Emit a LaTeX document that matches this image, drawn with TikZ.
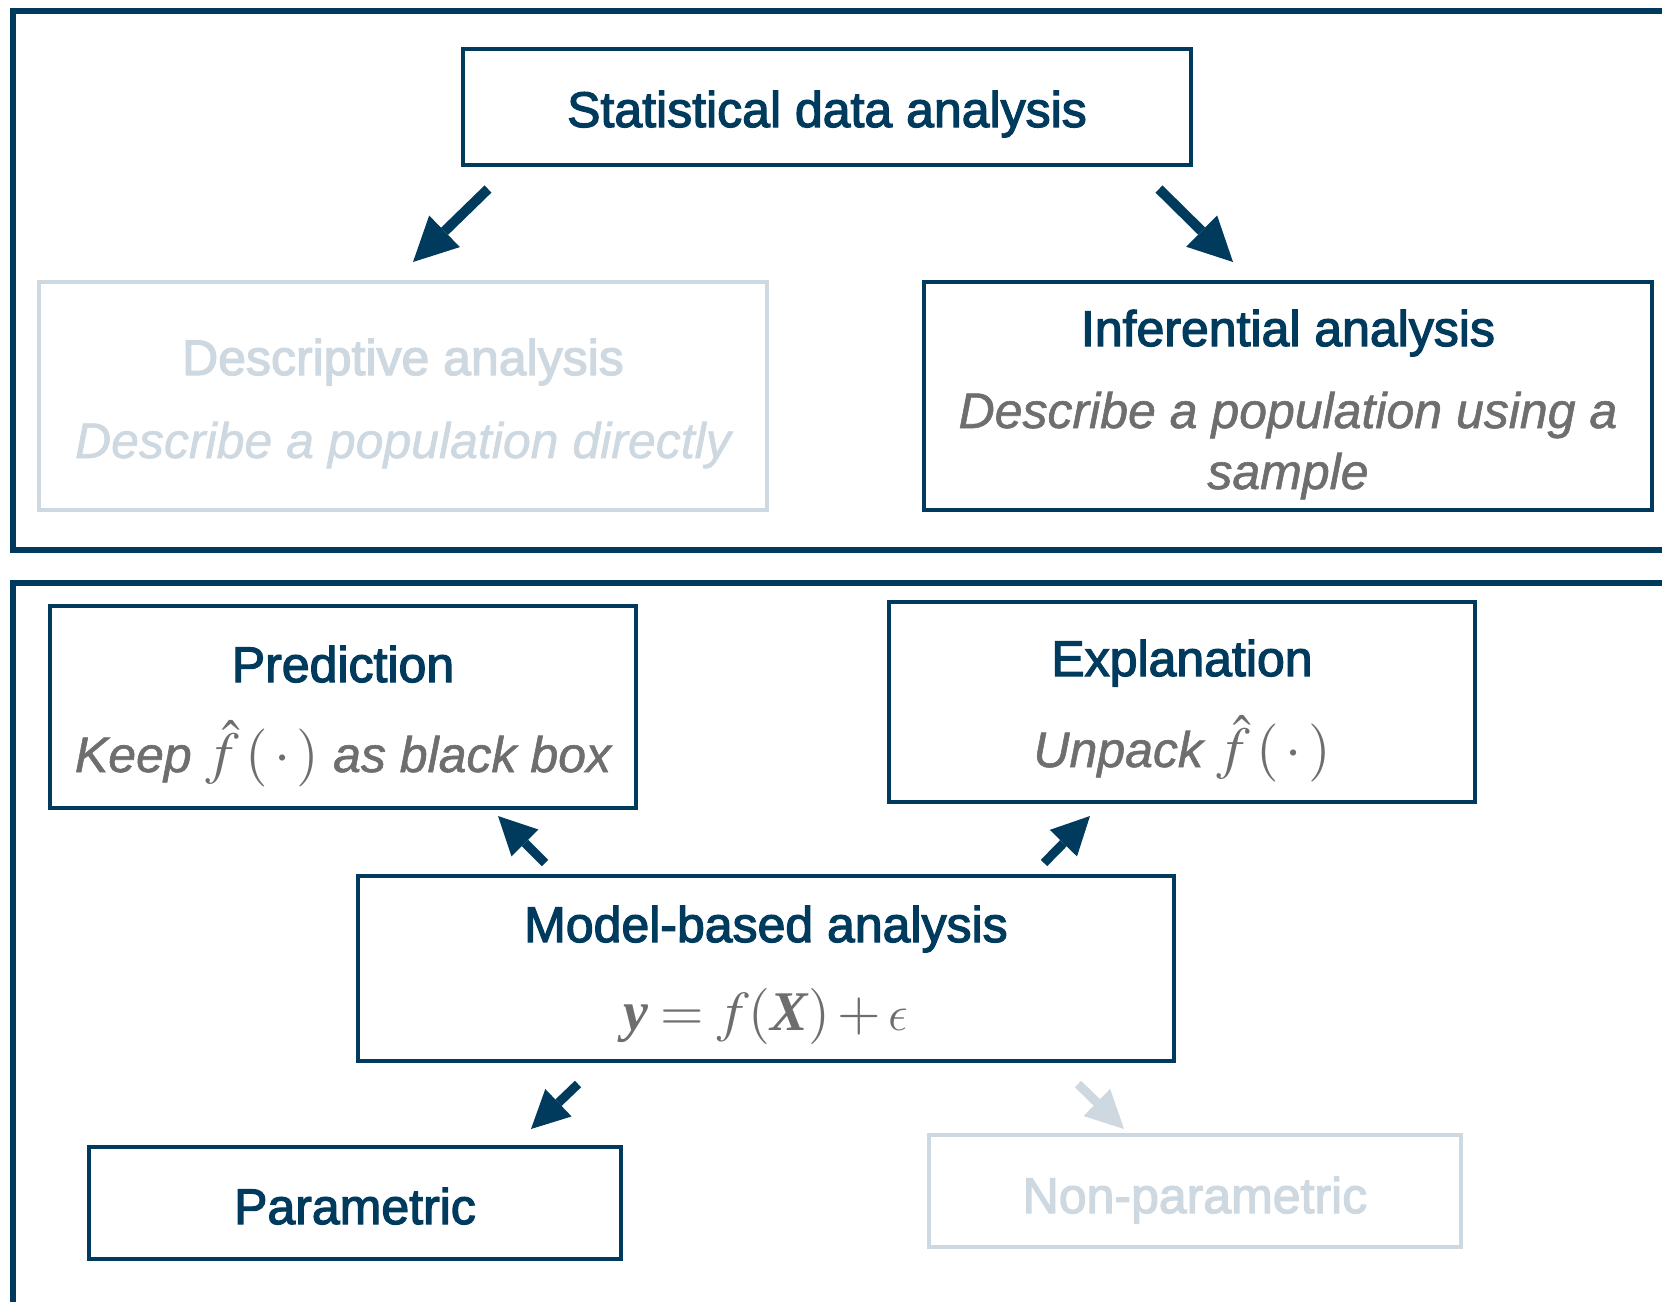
\documentclass[tikz,border=0pt]{standalone}
\usepackage{mathptmx}
\usepackage[no-math]{fontspec}
\setmainfont{Liberation Sans}
\newfontfamily\serifrm{Liberation Serif}
% slightly emboldened faces for box titles and descriptions
\font\headfnt="Liberation Sans:embolden=2.5" at 25pt
\font\subfnt="Liberation Sans/I:embolden=1.2" at 25pt
\usetikzlibrary{arrows.meta}

\definecolor{navy}{RGB}{0,58,93}
\definecolor{pale}{RGB}{205,216,224}
\definecolor{slate}{RGB}{110,110,110}

% lunate epsilon taken from the Latin Modern math italic font
\newcommand\lunateps{\mbox{\fontencoding{OML}\fontfamily{lmm}\fontseries{m}\fontshape{it}\fontsize{34}{34}\selectfont\char"0F}}
% estimated function, set a little larger than the words around it
\newcommand\fhatdot{{\fontsize{29}{29}\selectfont$\hat f\,(\,\cdot\,)$}}

\tikzset{
  frame/.style={draw=navy, line width=2.6pt},
  box/.style={draw=navy, line width=2.4pt, rectangle, inner sep=0pt},
  palebox/.style={box, draw=pale},
  label/.style={inner sep=0pt, anchor=base, font=\fontsize{25}{30}\selectfont},
  title/.style={label, text=navy, font=\headfnt},
  subtitle/.style={label, text=slate, font=\subfnt},
  bigarrow/.style={line width=5pt, draw=navy,
    -{Triangle[length=22pt,width=22pt,line width=0pt]}},
  smallarrow/.style={line width=4.5pt, draw=navy,
    -{Triangle[length=19pt,width=19pt,line width=0pt]}},
}

\begin{document}
\begin{tikzpicture}[x=0.5pt, y=-0.5pt]
\useasboundingbox (0,0) rectangle (1662,1302);

% two panels, open to the right and below
\draw[frame] (1700,11) -- (13,11) -- (13,550) -- (1700,550);
\draw[frame] (1700,583) -- (13,583) -- (13,1350);

% upper panel boxes
\node[box, minimum width=364pt, minimum height=58pt] (stat) at (827,107) {};
\node[palebox, minimum width=364pt, minimum height=114pt] (desc) at (403,396) {};
\node[box, minimum width=364pt, minimum height=114pt] (inf) at (1288,396) {};

\node[title] (statT) at (827,127) {Statistical data analysis};
\node[title, text=pale] (descT) at (403,375) {Descriptive analysis};
\node[subtitle, text=pale] (descS) at (403,458) {Describe a population directly};
\node[title] (infT) at (1288,346) {Inferential analysis};
\node[subtitle] (infS1) at (1288,428) {Describe a population using a};
\node[subtitle] (infS2) at (1288,489) {sample};

% lower panel boxes
\node[box, minimum width=293pt, minimum height=101pt] (pred) at (343,707) {};
\node[box, minimum width=293pt, minimum height=100pt] (expl) at (1182,702) {};
\node[box, minimum width=408pt, minimum height=92.5pt] (model) at (766,968.5) {};
\node[box, minimum width=266pt, minimum height=56pt] (param) at (355,1203) {};
\node[palebox, minimum width=266pt, minimum height=56pt] (nonparam) at (1195,1191) {};

\node[title] (predT) at (343,682) {Prediction};
\node[subtitle] (predS) at (343,772) {Keep\;\fhatdot\ as black box};
\node[title] (explT) at (1182,676) {Explanation};
\node[subtitle] (explS) at (1182,767) {Unpack\;\fhatdot};
\node[title] (modelT) at (766,942) {Model-based analysis};
\node[label, text=slate, font=\fontsize{28}{32}\selectfont] (modelS) at (766,1030)
  {$\mbox{\serifrm\bfseries\itshape y} = f(\mbox{\serifrm\bfseries\itshape X}) + \lunateps$};
\node[title] (paramT) at (355,1224) {Parametric};
\node[title, text=pale] (nonparamT) at (1195,1213) {Non-parametric};

% arrow end points
\coordinate (a1s) at (488,189);  \coordinate (a1e) at (413,262);
\coordinate (a2s) at (1159,189); \coordinate (a2e) at (1233,262);
\coordinate (a3s) at (545,863);  \coordinate (a3e) at (498,816);
\coordinate (a4s) at (1044,863); \coordinate (a4e) at (1090,816);
\coordinate (a5s) at (578,1084); \coordinate (a5e) at (531,1129);
\coordinate (a6s) at (1078,1084);\coordinate (a6e) at (1124,1129);

\draw[bigarrow] (a1s) -- (a1e);
\draw[bigarrow] (a2s) -- (a2e);
\draw[smallarrow] (a3s) -- (a3e);
\draw[smallarrow] (a4s) -- (a4e);
\draw[smallarrow] (a5s) -- (a5e);
\draw[smallarrow, draw=pale] (a6s) -- (a6e);
\end{tikzpicture}
\end{document}
